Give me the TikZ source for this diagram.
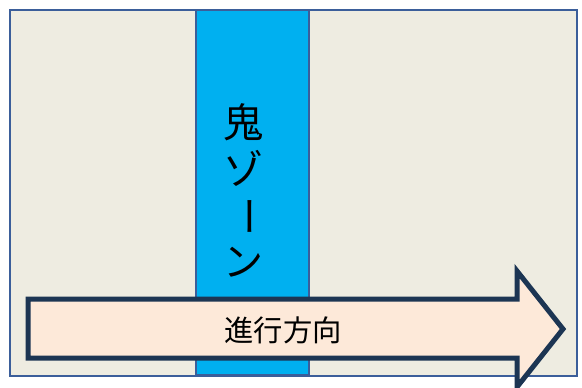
\documentclass[tikz,border=0pt]{standalone}
\usepackage{fontspec}
\newfontfamily\jp{Noto Sans CJK JP}
\definecolor{bgbeige}{HTML}{EEECE1}
\definecolor{frameblue}{HTML}{3B5E9A}
\definecolor{zoneblue}{HTML}{00B0F0}
\definecolor{arrowfill}{HTML}{FDE9D9}
\definecolor{arrowline}{HTML}{1C3553}
\tikzset{
  vchar/.style={font=\jp\fontsize{30}{30}\selectfont, inner sep=0pt, text=black},
  htext/.style={font=\jp\fontsize{22}{22}\selectfont, inner sep=0pt, text=black},
}
\begin{document}
\begin{tikzpicture}[x=0.75pt,y=-0.75pt]
\useasboundingbox (0,0) rectangle (582,387);
\fill[white] (0,0) rectangle (582,387);
% outer frame
\draw[fill=bgbeige, draw=frameblue, line width=1.2pt] (10,10) rectangle (577,376);
% oni zone band
\draw[fill=zoneblue, draw=frameblue, line width=1pt] (196,10) rectangle (309,375);
\node[vchar] (c1) at (243,122) {鬼};
\node[vchar] (c2) at (243,168) {ゾ};
\node[vchar, rotate=-90] (c3) at (243,216) {ー};
\node[vchar] (c4) at (243,262) {ン};
% direction arrow
\draw[fill=arrowfill, draw=arrowline, line width=3.75pt, line join=miter]
  (28,299) -- (517,299) -- (517,271) -- (563,329) -- (517,387) -- (517,358) -- (28,358) -- cycle;
\node[htext] (dir) at (283,330) {進行方向};
\end{tikzpicture}
\end{document}
